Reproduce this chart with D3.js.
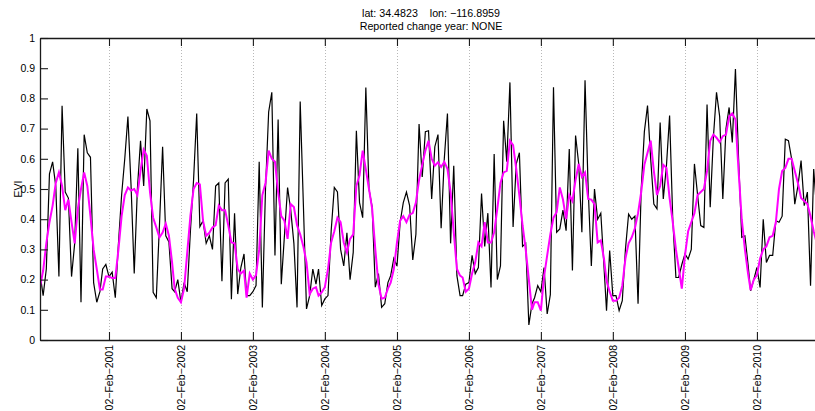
<!DOCTYPE html>
<html>
<head>
<meta charset="utf-8">
<script src="https://cdn.jsdelivr.net/npm/d3@7"></script>
<style>
  html, body { margin: 0; padding: 0; background: #fff; }
  svg { display: block; font-family: "Liberation Sans", Arial, Helvetica, sans-serif; }
</style>
</head>
<body>
<svg id="chart" width="815" height="411"></svg>
<script>
// Site header
const titleLines = ["lat: 34.4823    lon: \u2212116.8959", "Reported change year: NONE"];
const yAxisLabel = "EVI";

// 16-day composite years; 2000 starts at day-of-year 49, later years at day 1
const compositeYears = [2000, 2001, 2002, 2003, 2004, 2005, 2006, 2007, 2008, 2009, 2010];
const firstDoy = { 2000: 49 };

// Raw EVI, one value per composite (20 for 2000, 23 per year after)
const rawEvi = [
  /* 2000 */ 0.22, 0.147, 0.235, 0.55, 0.59, 0.51, 0.21, 0.776, 0.49, 0.47, 0.21, 0.32, 0.635, 0.125, 0.68, 0.62, 0.605, 0.19, 0.125, 0.16,
  /* 2001 */ 0.235, 0.25, 0.21, 0.225, 0.14, 0.32, 0.48, 0.6, 0.74, 0.51, 0.22, 0.5, 0.66, 0.51, 0.765, 0.726, 0.158, 0.14, 0.38, 0.64, 0.345, 0.325, 0.17,
  /* 2002 */ 0.16, 0.2, 0.125, 0.19, 0.16, 0.36, 0.53, 0.75, 0.375, 0.395, 0.32, 0.345, 0.30, 0.51, 0.52, 0.195, 0.52, 0.533, 0.135, 0.42, 0.152, 0.24, 0.285,
  /* 2003 */ 0.147, 0.147, 0.16, 0.18, 0.59, 0.108, 0.5, 0.755, 0.82, 0.28, 0.73, 0.185, 0.345, 0.505, 0.43, 0.32, 0.108, 0.79, 0.45, 0.103, 0.147, 0.235, 0.185,
  /* 2004 */ 0.235, 0.114, 0.136, 0.147, 0.36, 0.505, 0.49, 0.3, 0.245, 0.355, 0.2, 0.29, 0.693, 0.455, 0.405, 0.836, 0.5, 0.44, 0.175, 0.22, 0.108, 0.12, 0.19,
  /* 2005 */ 0.213, 0.27, 0.245, 0.39, 0.455, 0.49, 0.445, 0.265, 0.35, 0.715, 0.54, 0.69, 0.693, 0.467, 0.64, 0.68, 0.37, 0.6, 0.75, 0.32, 0.577, 0.213, 0.147,
  /* 2006 */ 0.147, 0.185, 0.19, 0.28, 0.22, 0.24, 0.485, 0.31, 0.42, 0.174, 0.616, 0.2, 0.245, 0.726, 0.59, 0.853, 0.374, 0.583, 0.62, 0.31, 0.32, 0.05, 0.12,
  /* 2007 */ 0.14, 0.18, 0.16, 0.24, 0.086, 0.15, 0.837, 0.357, 0.368, 0.43, 0.362, 0.632, 0.23, 0.677, 0.583, 0.357, 0.86, 0.5, 0.245, 0.5, 0.4, 0.42, 0.245,
  /* 2008 */ 0.097, 0.296, 0.147, 0.147, 0.097, 0.13, 0.3, 0.417, 0.4, 0.41, 0.12, 0.5, 0.69, 0.776, 0.6, 0.45, 0.434, 0.72, 0.467, 0.577, 0.743, 0.4, 0.207,
  /* 2009 */ 0.207, 0.25, 0.285, 0.268, 0.3, 0.583, 0.48, 0.379, 0.373, 0.78, 0.44, 0.67, 0.82, 0.74, 0.467, 0.7, 0.77, 0.654, 0.897, 0.6, 0.34, 0.345, 0.25,
  /* 2010 */ 0.163, 0.2, 0.24, 0.174, 0.4, 0.257, 0.28, 0.28, 0.395, 0.39, 0.41, 0.665, 0.66, 0.6, 0.45, 0.51, 0.594, 0.445, 0.49, 0.18, 0.566, 0.42, 0.4
];

// Smoothed EVI on the same composites
const smoothEvi = [
  /* 2000 */ 0.175, 0.23, 0.32, 0.39, 0.445, 0.52, 0.555, 0.51, 0.43, 0.465, 0.39, 0.32, 0.435, 0.5, 0.555, 0.51, 0.41, 0.30, 0.235, 0.167,
  /* 2001 */ 0.167, 0.21, 0.21, 0.205, 0.205, 0.30, 0.41, 0.48, 0.505, 0.495, 0.5, 0.48, 0.56, 0.63, 0.61, 0.49, 0.405, 0.373, 0.34, 0.356, 0.385, 0.345, 0.257,
  /* 2002 */ 0.17, 0.14, 0.125, 0.17, 0.29, 0.41, 0.5, 0.52, 0.515, 0.395, 0.345, 0.355, 0.373, 0.38, 0.445, 0.43, 0.43, 0.38, 0.323, 0.32, 0.235, 0.22, 0.23,
  /* 2003 */ 0.14, 0.22, 0.2, 0.215, 0.3, 0.48, 0.52, 0.627, 0.6, 0.59, 0.49, 0.41, 0.395, 0.335, 0.45, 0.44, 0.38, 0.35, 0.31, 0.257, 0.152, 0.17, 0.175,
  /* 2004 */ 0.147, 0.158, 0.175, 0.235, 0.323, 0.36, 0.405, 0.39, 0.323, 0.29, 0.335, 0.35, 0.51, 0.545, 0.627, 0.565, 0.5, 0.435, 0.3, 0.185, 0.137, 0.14, 0.17,
  /* 2005 */ 0.19, 0.235, 0.323, 0.395, 0.41, 0.39, 0.415, 0.42, 0.455, 0.53, 0.58, 0.627, 0.66, 0.6, 0.577, 0.588, 0.573, 0.59, 0.567, 0.49, 0.357, 0.235, 0.213,
  /* 2006 */ 0.207, 0.16, 0.17, 0.22, 0.257, 0.323, 0.31, 0.39, 0.323, 0.323, 0.357, 0.435, 0.52, 0.555, 0.56, 0.66, 0.645, 0.567, 0.478, 0.38, 0.3, 0.2, 0.1,
  /* 2007 */ 0.125, 0.125, 0.097, 0.21, 0.28, 0.35, 0.405, 0.423, 0.505, 0.465, 0.4, 0.48, 0.46, 0.53, 0.583, 0.54, 0.555, 0.467, 0.465, 0.45, 0.323, 0.33, 0.27,
  /* 2008 */ 0.196, 0.16, 0.13, 0.13, 0.14, 0.18, 0.27, 0.32, 0.34, 0.37, 0.42, 0.49, 0.58, 0.62, 0.66, 0.56, 0.48, 0.51, 0.58, 0.57, 0.47, 0.39, 0.3,
  /* 2009 */ 0.24, 0.17, 0.28, 0.36, 0.39, 0.42, 0.48, 0.49, 0.5, 0.56, 0.66, 0.68, 0.67, 0.655, 0.675, 0.68, 0.74, 0.75, 0.73, 0.56, 0.4, 0.3, 0.22,
  /* 2010 */ 0.165, 0.2, 0.215, 0.27, 0.3, 0.31, 0.34, 0.345, 0.39, 0.5, 0.56, 0.57, 0.6, 0.6, 0.56, 0.52, 0.47, 0.46, 0.45, 0.41, 0.36, 0.32, 0.3
];

// Axis ticks
const xTickYears = [2001, 2002, 2003, 2004, 2005, 2006, 2007, 2008, 2009, 2010];
const yTickValues = [0, 0.1, 0.2, 0.3, 0.4, 0.5, 0.6, 0.7, 0.8, 0.9, 1];
const yTickLabels = ["0", "0.1", "0.2", "0.3", "0.4", "0.5", "0.6", "0.7", "0.8", "0.9", "1"];

// ---- build composite dates ----
const dates = compositeYears.flatMap(yr =>
  d3.range(firstDoy[yr] || 1, 366, 16).map(doy => new Date(Date.UTC(yr, 0, doy)))
);
const rawSeries = dates.map((d, i) => ({ date: d, v: rawEvi[i] }));
const smoothSeries = dates.map((d, i) => ({ date: d, v: smoothEvi[i] }));
const tickDates = xTickYears.map(yr => new Date(Date.UTC(yr, 1, 2)));
const monthAbbr = ["Jan","Feb","Mar","Apr","May","Jun","Jul","Aug","Sep","Oct","Nov","Dec"];
const fmtTick = d => String(d.getUTCDate()).padStart(2, "0") + "\u2212" + monthAbbr[d.getUTCMonth()] + "\u2212" + d.getUTCFullYear();

// ---- layout ----
const plot = { left: 40, top: 38, right: 820, bottom: 340 };
const svg = d3.select("#chart");
const axisColor = "#1a1a1a";

const x = d3.scaleUtc().domain(d3.extent(dates)).range([plot.left, plot.right]);
const y = d3.scaleLinear().domain([0, 1]).range([plot.bottom, plot.top]);

svg.append("defs").append("clipPath").attr("id", "plotClip")
  .append("rect")
  .attr("x", plot.left).attr("y", plot.top - 1)
  .attr("width", plot.right - plot.left).attr("height", plot.bottom - plot.top + 2);

// dotted vertical grid at each tick date
svg.append("g").selectAll("line").data(tickDates).join("line")
  .attr("x1", d => Math.round(x(d)) + 0.5).attr("x2", d => Math.round(x(d)) + 0.5)
  .attr("y1", plot.top).attr("y2", plot.bottom)
  .attr("stroke", "#b8b8b8").attr("stroke-width", 1).attr("stroke-dasharray", "1,2");

// series
const line = d3.line().x(d => x(d.date)).y(d => y(d.v));
const series = svg.append("g").attr("clip-path", "url(#plotClip)");
series.append("path").datum(rawSeries)
  .attr("d", line).attr("fill", "none").attr("stroke", "#000").attr("stroke-width", 1.2);
series.append("path").datum(smoothSeries)
  .attr("d", line).attr("fill", "none").attr("stroke", "#ff00ff").attr("stroke-width", 2);

// axes (ticks point inward)
const styleAxis = g => {
  g.select(".domain").attr("stroke", axisColor).attr("stroke-width", 1.3);
  g.selectAll(".tick line").attr("stroke", axisColor).attr("stroke-width", 1.1);
};

const gLeft = svg.append("g").attr("transform", `translate(${plot.left},0)`)
  .call(d3.axisLeft(y).tickValues(yTickValues).tickSize(-8).tickSizeOuter(0).tickPadding(5)
    .tickFormat((d, i) => yTickLabels[i]));
styleAxis(gLeft);
gLeft.selectAll(".tick text").attr("font-size", 10.5).attr("fill", "#000")
  .attr("font-family", "'Liberation Sans', Arial, sans-serif");

const gBottom = svg.append("g").attr("transform", `translate(0,${plot.bottom})`)
  .call(d3.axisBottom(x).tickValues(tickDates).tickSize(-8).tickSizeOuter(0).tickFormat(""));
styleAxis(gBottom);

const gTop = svg.append("g").attr("transform", `translate(0,${plot.top})`)
  .call(d3.axisTop(x).tickValues(tickDates).tickSize(-8).tickSizeOuter(0).tickFormat(""));
styleAxis(gTop);

// rotated date labels
svg.append("g").selectAll("text").data(tickDates).join("text")
  .attr("transform", d => `translate(${x(d)},${plot.bottom + 5}) rotate(-90)`)
  .attr("dy", "0.35em")
  .attr("text-anchor", "end")
  .attr("font-size", 10.5)
  .attr("fill", "#000")
  .text(fmtTick);

// y axis label
svg.append("text")
  .attr("transform", `translate(18,${(plot.top + plot.bottom) / 2}) rotate(-90)`)
  .attr("dy", "0.35em")
  .attr("text-anchor", "middle")
  .attr("font-size", 10.5)
  .attr("fill", "#000")
  .text(yAxisLabel);

// title
svg.append("g").selectAll("text").data(titleLines).join("text")
  .attr("x", 431)
  .attr("y", (d, i) => 17 + i * 13)
  .attr("text-anchor", "middle")
  .attr("font-size", 10.7)
  .attr("fill", "#000")
  .attr("xml:space", "preserve")
  .style("white-space", "pre")
  .text(d => d);
</script>
</body>
</html>
